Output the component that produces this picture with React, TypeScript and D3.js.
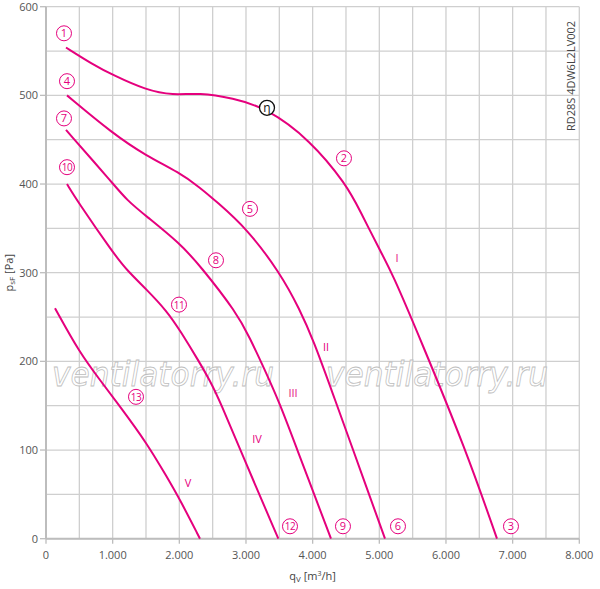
import React, { useRef, useEffect } from 'react';
import * as d3 from 'd3';

// characteristic curves, q [m3/h] / p [Pa]
const curveI = [[300, 554], [700, 535], [1000, 523], [1500, 506], [1900, 500], [2300, 503], [2800, 497], [3300, 486], [3960, 450], [4510, 399], [4710, 370], [5010, 325], [5190, 300], [5610, 226], [6300, 100], [6765, 0]];
const curveII = [[315, 500], [1000, 457], [1500, 432], [2000, 413], [2310, 396], [2560, 380], [3010, 350], [3510, 300], [3810, 258], [4010, 224], [4310, 162], [4560, 110], [5085, 0]];
const curveIII = [[300, 461], [1000, 401], [1210, 382], [1500, 364], [2010, 333], [2310, 308], [2860, 255], [3060, 226], [3260, 194], [3510, 152], [3710, 112], [4275, 0]];
const curveIV = [[315, 400], [460, 382], [1010, 322], [1210, 303], [1510, 281], [1810, 257], [2010, 235], [2310, 198], [2460, 178], [2610, 155], [2960, 92], [3485, 0]];
const curveV = [[135, 260], [510, 209], [810, 179], [1110, 149], [1510, 108], [1810, 70], [2010, 44], [2310, 0]];
const curves = [curveI, curveII, curveIII, curveIV, curveV];

const pointLabels = ['1', '2', '3', '4', '5', '6', '7', '8', '9', '10', '11', '12', '13'];
const pointPos = [[270, 570], [4470, 429], [6975, 14], [315, 516], [3060, 372], [5280, 14], [270, 474], [2550, 314], [4455, 14], [315, 419], [1995, 264], [3660, 14], [1350, 160]];
const etaPos = [3315, 486];

const romanLabels = ['I', 'II', 'III', 'IV', 'V'];
const romanPos = [[5265, 317], [4200, 216], [3705, 164], [3165, 113], [2130, 63]];

const xTicks = [0, 1000, 2000, 3000, 4000, 5000, 6000, 7000, 8000];
const yTicks = [0, 100, 200, 300, 400, 500, 600];

const magenta = '#e5007d';
const font = '"Open Sans", sans-serif';

const App = () => {
  const chartRef = useRef(null);

  useEffect(() => {
    const container = d3.select(chartRef.current);
    container.select('svg').remove();

    const width = 600;
    const height = 589;

    const svg = container.append('svg')
      .attr('width', width)
      .attr('height', height)
      .style('position', 'absolute')
      .style('left', '0px')
      .style('top', '0px')
      .style('font-family', font);

    const x = d3.scaleLinear().domain([0, 8000]).range([46, 579.3]);
    const y = d3.scaleLinear().domain([0, 600]).range([538.7, 6.7]);

    // grid
    const grid = svg.append('g').attr('stroke', '#cfcfcf').attr('stroke-width', 1.3);
    grid.selectAll('.gx').data(d3.range(0, 8001, 500)).enter().append('line')
      .attr('x1', d => x(d)).attr('x2', d => x(d))
      .attr('y1', y(600)).attr('y2', y(0));
    grid.selectAll('.gy').data(d3.range(0, 601, 50)).enter().append('line')
      .attr('x1', x(0)).attr('x2', x(8000))
      .attr('y1', d => y(d)).attr('y2', d => y(d));

    // axes
    const axis = svg.append('g').attr('stroke', '#bdbdbd').attr('stroke-width', 2);
    axis.append('line').attr('x1', x(0)).attr('x2', x(8000)).attr('y1', y(0)).attr('y2', y(0));
    axis.append('line').attr('x1', x(0)).attr('x2', x(0)).attr('y1', y(600)).attr('y2', y(0));
    axis.selectAll('.ty').data(yTicks).enter().append('line')
      .attr('stroke-width', 1.3)
      .attr('x1', x(0) - 6).attr('x2', x(0))
      .attr('y1', d => y(d)).attr('y2', d => y(d));
    axis.selectAll('.tx').data(xTicks).enter().append('line')
      .attr('stroke-width', 1.3)
      .attr('x1', d => x(d)).attr('x2', d => x(d))
      .attr('y1', y(0)).attr('y2', y(0) + 5);

    svg.selectAll('.yl').data(yTicks).enter().append('text')
      .attr('x', x(0) - 8).attr('y', d => y(d) + 4)
      .attr('text-anchor', 'end').attr('font-size', 11).attr('fill', '#555')
      .text(d => d);
    svg.selectAll('.xl').data(xTicks).enter().append('text')
      .attr('x', d => x(d)).attr('y', y(0) + 20)
      .attr('text-anchor', 'middle').attr('font-size', 11).attr('fill', '#555')
      .text(d => d3.format(',')(d).replace(/,/g, '.'));

    // axis titles
    const xt = svg.append('text')
      .attr('x', (x(0) + x(8000)) / 2).attr('y', 580)
      .attr('text-anchor', 'middle').attr('font-size', 11).attr('fill', '#444');
    xt.append('tspan').text('q');
    xt.append('tspan').attr('font-size', 8).attr('dy', 2).text('V');
    xt.append('tspan').attr('dy', -2).text(' [m');
    xt.append('tspan').attr('font-size', 7).attr('dy', -4).text('3');
    xt.append('tspan').attr('dy', 4).text('/h]');

    const yt = svg.append('text')
      .attr('transform', `translate(13, ${(y(0) + y(600)) / 2}) rotate(-90)`)
      .attr('text-anchor', 'middle').attr('font-size', 11).attr('fill', '#444');
    yt.append('tspan').text('p');
    yt.append('tspan').attr('font-size', 8).attr('dy', 2).text('sF');
    yt.append('tspan').attr('dy', -2).text('  [Pa]');

    svg.append('text')
      .attr('transform', `translate(575, 76) rotate(-90)`)
      .attr('text-anchor', 'middle').attr('font-size', 11).attr('fill', '#444')
      .text('RD28S 4DW6L2LV002');

    // watermark
    svg.selectAll('.wm').data([52, 326]).enter().append('text')
      .attr('x', d => d).attr('y', 386)
      .attr('font-family', '"DejaVu Sans", sans-serif')
      .attr('font-style', 'italic').attr('font-size', 34)
      .attr('textLength', 222).attr('lengthAdjust', 'spacingAndGlyphs')
      .attr('fill', '#fff').attr('fill-opacity', 0.75)
      .attr('stroke', '#bdbdbd').attr('stroke-width', 0.8)
      .text('ventilatorry.ru');

    // curves
    const line = d3.line<number[]>()
      .x(d => x(d[0]))
      .y(d => y(d[1]))
      .curve(d3.curveBasis);

    svg.selectAll('.curve').data(curves).enter().append('path')
      .attr('d', d => line(d))
      .attr('fill', 'none')
      .attr('stroke', magenta)
      .attr('stroke-width', 2);

    // numbered markers
    const marks = svg.selectAll('.mk').data(pointLabels).enter().append('g')
      .attr('transform', (d, i) => `translate(${x(pointPos[i][0])}, ${y(pointPos[i][1])})`);
    marks.append('circle').attr('r', 7.5)
      .attr('fill', '#fff').attr('stroke', magenta).attr('stroke-width', 1);
    marks.append('text').attr('y', 4)
      .attr('text-anchor', 'middle').attr('font-size', d => d.length > 1 ? 10 : 11)
      .attr('letter-spacing', d => d.length > 1 ? -0.5 : 0)
      .attr('fill', magenta).text(d => d);

    const eta = svg.append('g').attr('transform', `translate(${x(etaPos[0])}, ${y(etaPos[1])})`);
    eta.append('circle').attr('r', 7.5)
      .attr('fill', '#fff').attr('stroke', '#111').attr('stroke-width', 1.3);
    eta.append('text').attr('y', 4).attr('text-anchor', 'middle')
      .attr('font-size', 12).attr('fill', '#111').text('η');

    svg.selectAll('.rl').data(romanLabels).enter().append('text')
      .attr('x', (d, i) => x(romanPos[i][0])).attr('y', (d, i) => y(romanPos[i][1]) + 4)
      .attr('text-anchor', 'middle').attr('font-size', 11).attr('fill', magenta)
      .text(d => d);
  }, []);

  return (
    <div ref={chartRef}></div>
  );
};

export default App;
